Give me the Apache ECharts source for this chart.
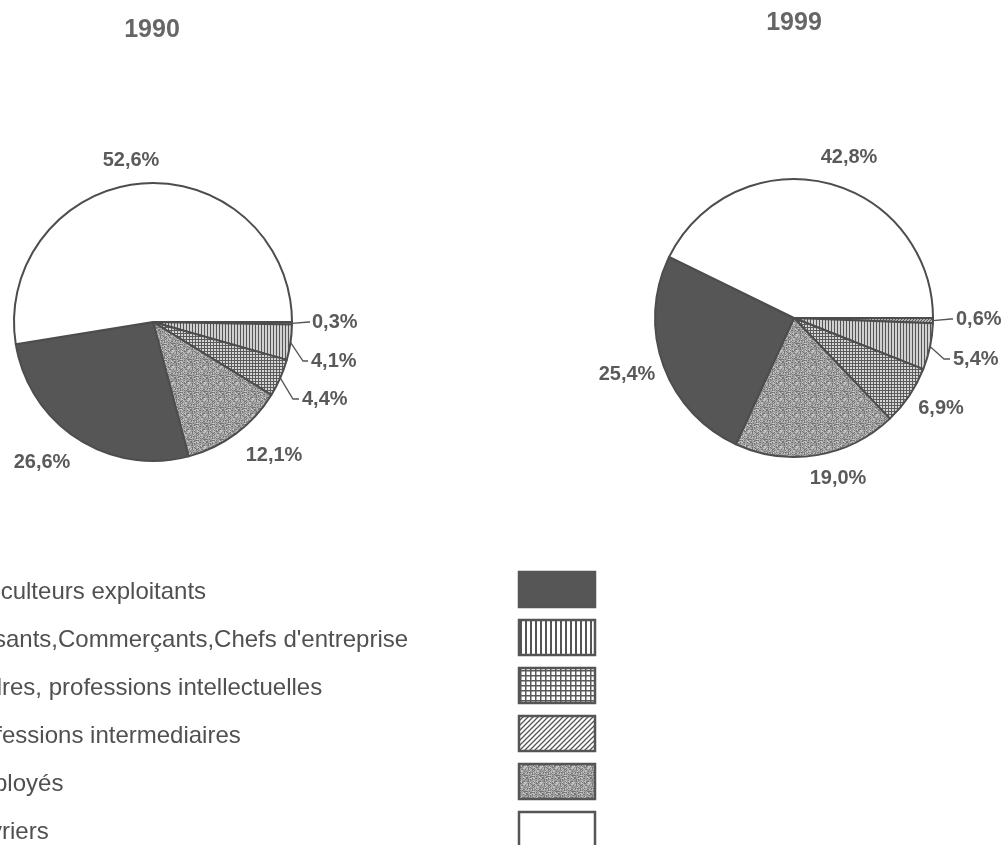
<!DOCTYPE html>
<html>
<head>
<meta charset="utf-8">
<title>Répartition par catégorie socioprofessionnelle, 1990 et 1999</title>
<script src="https://cdn.jsdelivr.net/npm/echarts@6/dist/echarts.min.js"></script>
<style>
  html, body { margin: 0; padding: 0; background: #ffffff; }
  #chart { width: 1006px; height: 845px; }
</style>
</head>
<body>
<div id="chart"></div>
<script>
// ---- Data ----
const CATEGORIES = [
  'Agriculteurs exploitants',
  "Artisants,Commerçants,Chefs d'entreprise",
  'Cadres, professions intellectuelles',
  'Professions intermediaires',
  'Employés',
  'Ouvriers'
];
const YEARS = ['1990', '1999'];
const VALUES_1990 = [26.6, 4.1, 4.4, 0.3, 12.1, 52.6];
const VALUES_1999 = [25.4, 5.4, 6.9, 0.6, 19.0, 42.8];
// order of the slices, clockwise from 3 o'clock (indices into CATEGORIES)
const SLICE_ORDER = [3, 1, 2, 4, 0, 5];

// ---- Fill patterns ----
function tile(w, h, paint) {
  const c = document.createElement('canvas');
  c.width = w; c.height = h;
  const g = c.getContext('2d');
  paint(g, w, h);
  return { image: c, repeat: 'repeat' };
}
function hash(x, y) {
  let n = (x * 374761393 + y * 668265263) >>> 0;
  n = ((n ^ (n >>> 13)) * 1274126177) >>> 0;
  return (n ^ (n >>> 16)) & 255;
}
function makeFills(scale) {
  const big = scale > 3;
  return [
    // dark solid
    '#565656',
    // vertical lines
    tile(big ? 5 : 3, 4, (g, w, h) => {
      g.fillStyle = big ? '#ffffff' : '#d0d0d0'; g.fillRect(0, 0, w, h);
      g.fillStyle = '#555555'; g.fillRect(0, 0, big ? 2 : 1, h);
    }),
    // grid
    tile(scale, scale, (g, w, h) => {
      g.fillStyle = big ? '#ffffff' : '#d6d6d6'; g.fillRect(0, 0, w, h);
      g.fillStyle = '#5a5a5a';
      g.fillRect(0, 0, w, big ? 1.5 : 1);
      g.fillRect(0, 0, big ? 1.5 : 1, h);
    }),
    // diagonal hatch
    tile(scale, scale, (g, w, h) => {
      g.fillStyle = '#ffffff'; g.fillRect(0, 0, w, h);
      g.strokeStyle = '#555555'; g.lineWidth = 1.3;
      g.beginPath();
      g.moveTo(-1, h + 1); g.lineTo(w + 1, -1);
      g.moveTo(-1 - w, h + 1); g.lineTo(1, -1);
      g.moveTo(w - 1, h + 1); g.lineTo(2 * w + 1, -1);
      g.stroke();
    }),
    // grey stipple
    tile(16, 16, (g, w, h) => {
      const img = g.createImageData(w, h);
      for (let y = 0; y < h; y++) {
        for (let x = 0; x < w; x++) {
          const v = hash(x, y);
          const c = v < 60 ? 118 : (v > 200 ? 196 : 158);
          const k = (y * w + x) * 4;
          img.data[k] = img.data[k + 1] = img.data[k + 2] = c;
          img.data[k + 3] = 255;
        }
      }
      g.putImageData(img, 0, 0);
    }),
    // white
    '#ffffff'
  ];
}
const PIE_FILLS = makeFills(3);
const LEGEND_FILLS = makeFills(5);

// ---- Label placement (per series, per category index) ----
const LABEL_POS = [
  {
    5: { x: 131, y: 160 },
    0: { x: 42, y: 462 },
    4: { x: 274, y: 455 },
    3: { x: 312, y: 322, align: 'left', line: [[309, 322], [310, 322]] },
    1: { x: 311, y: 361, align: 'left', line: [[303, 361], [308, 361]] },
    2: { x: 302, y: 399, align: 'left', line: [[293, 399], [299, 399]] }
  },
  {
    5: { x: 849, y: 157 },
    0: { x: 627, y: 374 },
    4: { x: 838, y: 478 },
    2: { x: 941, y: 408 },
    3: { x: 956, y: 319, align: 'left', line: [[951, 319], [953, 319]] },
    1: { x: 953, y: 359, align: 'left', line: [[944, 359], [950, 359]] }
  }
];

const FONT = "'Liberation Sans', Arial, sans-serif";
const PIE_GEOM = [
  { center: [153, 322], radius: 139 },
  { center: [794, 318], radius: 139 }
];

function fmt(v) { return v.toFixed(1).replace('.', ',') + '%'; }

function buildSeries(si, values) {
  return {
    type: 'pie',
    center: PIE_GEOM[si].center,
    radius: PIE_GEOM[si].radius,
    startAngle: 0,
    clockwise: true,
    avoidLabelOverlap: false,
    silent: true,
    animation: false,
    emphasis: { disabled: true },
    itemStyle: { borderColor: '#4d4d4d', borderWidth: 2 },
    label: {
      show: true,
      position: 'outside',
      formatter: p => fmt(p.value),
      fontFamily: FONT,
      fontSize: 20,
      fontWeight: 'bold',
      color: '#5a5a5a'
    },
    labelLine: {
      show: true,
      length: 8,
      length2: 6,
      lineStyle: { color: '#555555', width: 1.3 }
    },
    labelLayout: function (p) {
      const ci = SLICE_ORDER[p.dataIndex];
      const pos = LABEL_POS[si][ci];
      const out = { x: pos.x, y: pos.y, align: pos.align || 'center', verticalAlign: 'middle' };
      if (pos.line && p.labelLinePoints) {
        out.labelLinePoints = [p.labelLinePoints[0], pos.line[0], pos.line[1]];
      }
      return out;
    },
    data: SLICE_ORDER.map(ci => ({
      name: CATEGORIES[ci],
      value: values[ci],
      itemStyle: { color: PIE_FILLS[ci] },
      labelLine: { show: !!LABEL_POS[si][ci].line }
    }))
  };
}

// ---- Titles and legend ----
const graphics = [];
YEARS.forEach((y, i) => {
  graphics.push({
    type: 'text',
    x: i === 0 ? 152 : 794,
    y: i === 0 ? 30 : 23,
    silent: true,
    style: {
      text: y, font: 'bold 25px ' + FONT, fill: '#666666',
      align: 'center', verticalAlign: 'middle'
    }
  });
});
CATEGORIES.forEach((name, i) => {
  const top = 572 + i * 48;
  graphics.push({
    type: 'text',
    x: -42,
    y: top + 20,
    silent: true,
    style: { text: name, font: '24px ' + FONT, fill: '#505050', align: 'left', verticalAlign: 'middle' }
  });
  graphics.push({
    type: 'rect',
    silent: true,
    shape: { x: 519, y: top, width: 76, height: 35 },
    style: { fill: LEGEND_FILLS[i], stroke: '#555555', lineWidth: 2.5 }
  });
});

const chart = echarts.init(document.getElementById('chart'), null, { renderer: 'canvas' });
chart.setOption({
  backgroundColor: '#ffffff',
  animation: false,
  graphic: graphics,
  series: [buildSeries(0, VALUES_1990), buildSeries(1, VALUES_1999)]
});
</script>
</body>
</html>
